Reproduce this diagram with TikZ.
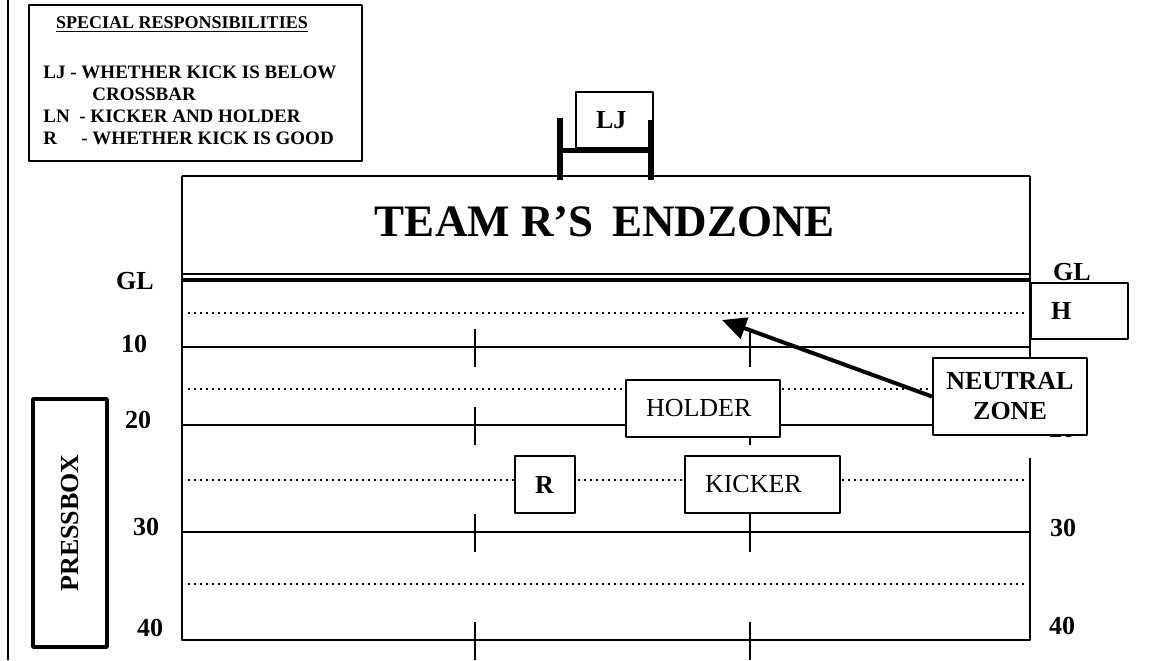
\documentclass[tikz,border=0pt]{standalone}
\usepackage{fontspec}
\setmainfont{Liberation Serif}
\usetikzlibrary{arrows.meta}

\tikzset{
	yardln/.style={line width=1.2pt},
	fiveln/.style={line width=0.6pt, dash pattern=on 0.8pt off 2.2pt},
	hashmk/.style={line width=1.1pt},
	ydnum/.style={font=\fontsize{13}{15}\selectfont\bfseries},
	pbox/.style={draw, fill=white, line width=1pt, anchor=west, align=left,
		inner xsep=10pt, minimum height=28pt, font=\fontsize{13}{15}\selectfont},
	resp/.style={anchor=west, inner sep=0pt, font=\fontsize{9.5}{11}\selectfont\bfseries}
}

\begin{document}
\begin{tikzpicture}[
						x=0.5pt, y=-0.5pt,
						line join=round
						]
						
						\useasboundingbox (0,0) rectangle (1156,660);
						
						% Page rule
						\draw[line width=0.6pt] (8,0) -- (8,660);
						
						% Special responsibilities
						\draw[line width=1.1pt] (29,5) rectangle (362,161);
						\node[font=\fontsize{9}{11}\selectfont\bfseries] (resptitle) at (182,25) {\underline{SPECIAL RESPONSIBILITIES}};
						\node[resp] (ljcode) at (43,72) {LJ};
						\node[resp] (ljtext) at (70,72) {- WHETHER KICK IS BELOW};
						\node[resp] (ljmore) at (92,94) {CROSSBAR};
						\node[resp] (lncode) at (43,116) {LN};
						\node[resp] (lntext) at (79,116) {- KICKER AND HOLDER};
						\node[resp] (rcode) at (43,138) {R};
						\node[resp] (rtext) at (81,138) {- WHETHER KICK IS GOOD};
						
						% Field
						\draw[yardln] (182,176) -- (1030,176);
						\draw[yardln] (182,176) -- (182,640) -- (1030,640) -- (1030,458);
						\draw[yardln] (1030,176) -- (1030,435);
						\node[font=\fontsize{22.5}{26}\selectfont\bfseries] (endzone) at (605,222) {TEAM R’S\, ENDZONE};
						
						% Goal line
						\draw[line width=0.8pt] (182,274) -- (1030,274);
						\draw[line width=1.8pt] (182,280) -- (1030,280);
						
						% Yard lines and hash marks
						\foreach \yy in {347,425,532}
							\draw[yardln] (182,\yy) -- (1030,\yy);
						\foreach \yy in {313,389,480,584}
							\draw[fiveln] (188,\yy) -- (1024,\yy);
						\foreach \yy in {347,425,532,640}{
							\draw[hashmk] (475,{\yy-18}) -- (475,{\yy+20});
							\draw[hashmk] (750,{\yy-18}) -- (750,{\yy+20});
						}
						
						% Yard numbers
						\node[ydnum] (glleft) at (135,281) {GL};
						\node[ydnum] (tenleft) at (134,344) {10};
						\node[ydnum] (twentyleft) at (138,420) {20};
						\node[ydnum] (thirtyleft) at (146,527) {30};
						\node[ydnum] (fortyleft) at (150,628) {40};
						\node[ydnum] (glright) at (1072,272) {GL};
						\node[ydnum] (twentyright) at (1062,429) {20};
						\node[ydnum] (thirtyright) at (1063,528) {30};
						\node[ydnum] (fortyright) at (1062,626) {40};
						
						% Press box
						\node[draw, line width=1.8pt, rotate=90, minimum width=124pt, minimum height=37pt,
							font=\fontsize{13}{15}\selectfont\bfseries] (press) at (70,523) {PRESSBOX};
						
						% Officials and players
						\node[pbox, text width=18.5pt, font=\fontsize{13}{15}\selectfont\bfseries] (lj) at (575,120) {LJ};
						\node[pbox, text width=28.5pt, font=\fontsize{13}{15}\selectfont\bfseries] (h) at (1030,311) {H};
						\node[pbox, text width=57pt, minimum height=28.5pt] (holder) at (625,408.5) {HOLDER};
						\node[pbox, text width=57.5pt, minimum height=28.5pt] (kicker) at (684,484.5) {KICKER};
						\node[pbox, text width=10pt, minimum height=28.5pt, font=\fontsize{13}{15}\selectfont\bfseries] (r) at (514,484.5) {R};
						\node[draw, fill=white, line width=1pt, align=center, inner xsep=5pt, text width=67pt,
							minimum height=38.5pt, font=\fontsize{13}{15}\selectfont\bfseries] (nz) at (1010,396.5) {NEUTRAL\\ZONE};
						
						% Arrow to neutral zone
						\coordinate (nztip) at (722,320);
						\draw[line width=2pt, -{Triangle[length=12pt, width=11pt]}] (nz.west) -- (nztip);
						
						% Goal post
						\draw[line width=3pt] (560,118) -- (560,180);
						\draw[line width=3pt] (651,120) -- (651,180);
						\draw[line width=2.5pt] (560,150) -- (651,150);
						
					\end{tikzpicture}
\end{document}
